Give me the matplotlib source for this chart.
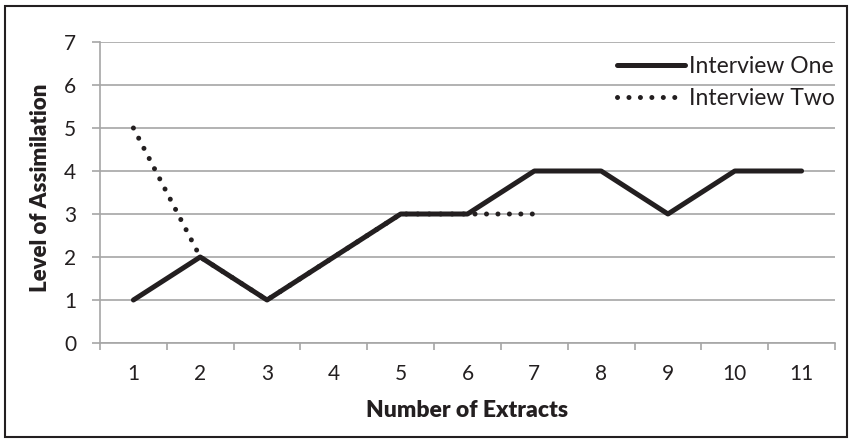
import matplotlib.pyplot as plt
import numpy as np
from matplotlib.patches import Rectangle

extracts = [1, 2, 3, 4, 5, 6, 7, 8, 9, 10, 11]
interview_one = [1, 2, 1, 2, 3, 3, 4, 4, 3, 4, 4]
interview_two = [5, 2, 1, 2, 3, 3, 3]

plt.rcParams['font.family'] = ['Lato', 'DejaVu Sans']

ink = '#231f20'
grey = '#a6a6a6'

fig = plt.figure(figsize=(8.53, 4.43), dpi=100)
ax = fig.add_axes([100/853, (443-343)/443, 735/853, 301/443])

ax.plot(extracts[:len(interview_two)], interview_two, color=ink,
        lw=3.6, linestyle=(0, (0.01, 2.28)), dash_capstyle='round',
        label='Interview Two')
ax.plot(extracts, interview_one, color=ink, lw=3.6,
        solid_capstyle='round', label='Interview One')

ax.set_xlim(0.5, 11.5)
ax.set_ylim(0, 7)
ax.set_yticks(range(0, 8))
ax.set_xticks(extracts)
ax.set_xticks(np.arange(0.5, 12, 1), minor=True)
ax.tick_params(axis='x', which='major', length=0, pad=15, labelsize=15,
               labelcolor=ink)
ax.tick_params(axis='x', which='minor', length=5, color=grey, width=1.2)
ax.tick_params(axis='y', length=6, color=grey, width=1.2, labelsize=15,
               pad=11, labelcolor=ink)
ax.grid(axis='y', color=grey, lw=1.2)
ax.set_axisbelow(True)
for s in ['top', 'right']:
    ax.spines[s].set_visible(False)
for s in ['left', 'bottom']:
    ax.spines[s].set_color(grey)
    ax.spines[s].set_linewidth(1.2)

ax.set_xlabel('Number of Extracts', fontsize=16.5, fontweight='heavy',
              color=ink)
ax.xaxis.set_label_coords(0.5, -0.19)
ax.set_ylabel('Level of Assimilation', fontsize=16, fontweight='heavy',
              color=ink)
ax.yaxis.set_label_coords(-0.0816, 0.515)
ax.yaxis.label.set_va('center')

h, l = ax.get_legend_handles_labels()
leg = ax.legend(h[::-1], l[::-1], loc='upper right', bbox_to_anchor=(1.0, 0.952),
                frameon=False, fontsize=16.5, handlelength=2.97,
                handletextpad=0.18, labelspacing=0.44, borderaxespad=0,
                borderpad=0)
for t in leg.get_texts():
    t.set_color(ink)

fig.patches.append(Rectangle((5/853, 6/443), 842/853, 431/443, fill=False,
                             edgecolor=ink, lw=1.5,
                             transform=fig.transFigure))

fig.savefig('out.png', dpi=100)
